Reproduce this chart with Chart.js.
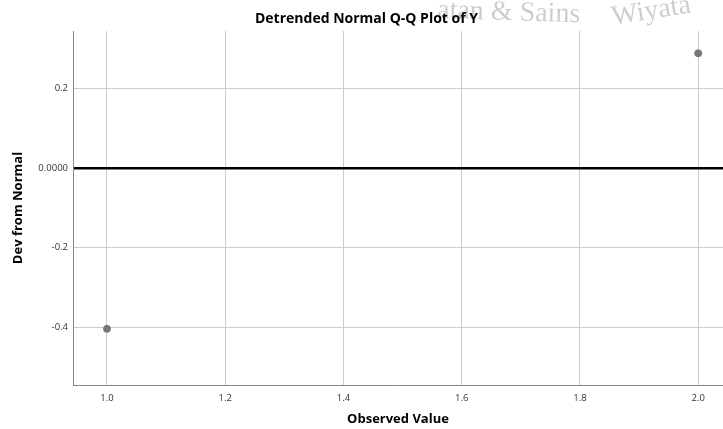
<!DOCTYPE html>
<html>
<head>
<meta charset="utf-8">
<script src="https://cdn.jsdelivr.net/npm/chart.js@4"></script>
<style>
body { margin: 0; background: #fff; overflow: hidden; }
#wrap { width: 723px; height: 429px; }
</style>
</head>
<body>
<div id="wrap"><canvas id="myChart"></canvas></div>
<script>
const observed = [1.0, 2.0];
const devFromNormal = [-0.404, 0.288];
const xTicks = [1.0, 1.2, 1.4, 1.6, 1.8, 2.0];
const yTicks = [-0.4, -0.2, 0.0, 0.2];

Chart.defaults.font.family = "'Open Sans', sans-serif";

// faint watermark that sits behind the title
const watermark = {
    id: 'watermark',
    beforeDraw(chart) {
        const c = chart.ctx;
        c.save();
        c.fillStyle = 'rgba(0,0,0,0.2)';
        c.font = '28px "Liberation Serif"';
        c.translate(437, 18);
        c.rotate(0.03);
        c.fillText('atan & Sains', 0, 0);
        c.restore();
        c.save();
        c.fillStyle = 'rgba(0,0,0,0.2)';
        c.font = '28px "Liberation Serif"';
        c.translate(613, 25);
        c.rotate(-0.16);
        c.fillText('Wiyata', 0, 0);
        c.restore();
    }
};

const ctx = document.getElementById('myChart').getContext('2d');
const myChart = new Chart(ctx, {
    type: 'scatter',
    data: {
        datasets: [{
            data: observed.map((x, i) => ({ x: x, y: devFromNormal[i] })),
            backgroundColor: '#777',
            borderColor: '#777',
            pointRadius: 3.5
        }]
    },
    options: {
        responsive: true,
        maintainAspectRatio: false,
        animation: false,
        layout: { padding: { left: 10 }, autoPadding: false },
        plugins: {
            legend: { display: false },
            tooltip: { enabled: false },
            title: {
                display: true,
                text: 'Detrended Normal Q-Q Plot of Y',
                color: '#000',
                font: { size: 14, weight: 'bold' },
                padding: { top: 11, bottom: 3.2 }
            }
        },
        scales: {
            x: {
                type: 'linear',
                min: 0.9425,
                max: 2.042,
                afterBuildTicks: s => { s.ticks = xTicks.map(v => ({ value: v })); },
                afterFit: s => { s.height = 44; s.paddingLeft = 0; s.paddingRight = 0; },
                ticks: {
                    color: '#333',
                    font: { size: 9.5 },
                    padding: 8,
                    callback: v => v.toFixed(1)
                },
                grid: { color: '#ccc', drawTicks: false },
                border: { color: '#888' },
                title: {
                    display: true,
                    text: 'Observed Value',
                    color: '#000',
                    font: { size: 13, weight: 'bold' },
                    padding: { top: 0, bottom: 2 }
                }
            },
            y: {
                min: -0.545,
                max: 0.344,
                afterBuildTicks: s => { s.ticks = yTicks.map(v => ({ value: v })); },
                afterFit: s => { s.width = 63; s.paddingTop = 0; s.paddingBottom = 0; },
                ticks: {
                    color: '#333',
                    font: { size: 9.5 },
                    padding: 5,
                    callback: v => (v === 0 ? '0.0000' : v.toFixed(1))
                },
                grid: {
                    drawTicks: false,
                    color: c => (c.tick && c.tick.value === 0 ? '#000' : '#ccc'),
                    lineWidth: c => (c.tick && c.tick.value === 0 ? 2.5 : 1)
                },
                border: { color: '#888' },
                title: {
                    display: true,
                    text: 'Dev from Normal',
                    color: '#000',
                    font: { size: 13, weight: 'bold' },
                    padding: { top: 0, bottom: 0 }
                }
            }
        }
    },
    plugins: [watermark]
});
</script>
</body>
</html>
